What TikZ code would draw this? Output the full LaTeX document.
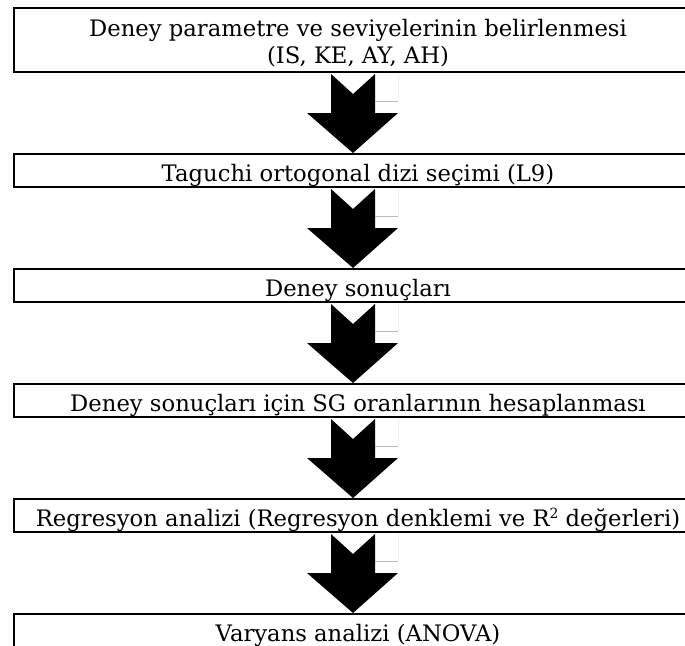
\documentclass[tikz,border=0pt]{standalone}
\usepackage{fontspec}
\setmainfont{DejaVu Serif}
\usetikzlibrary{calc}
\newcommand\flowarrow[2]{%
  \fill[arrowfill] let \p1=(#1.south), \p2=(#2.north) in
    (331pt,\y1-1pt) -- (353pt,\y1-21pt) -- (375pt,\y1-1pt) -- (375pt,\y1-40pt)
    -- (398pt,\y1-40pt) -- (353pt,\y2) -- (307pt,\y1-40pt) -- (331pt,\y1-40pt) -- cycle;
  \draw[ghost] let \p1=(#1.south) in (398pt,\y1-1pt) -- (398pt,\y1-28pt);
  \draw[ghostline] let \p1=(#1.south) in (375pt,\y1-28pt) -- (398pt,\y1-28pt);
}
\newcommand\supertwo{\raisebox{0.33em}{\fontsize{14}{14}\selectfont 2}}
\begin{document}
\begin{tikzpicture}[x=1pt,y=-1pt,
  box/.style={draw, line width=2pt, minimum width=688pt, inner sep=0pt,
    font=\fontsize{22.7}{27}\selectfont, text depth=0pt, text height=21pt, align=center},
  arrowfill/.style={fill=black},
  ghost/.style={draw=gray!12, line width=0.7pt},
  ghostline/.style={draw=gray!55, line width=0.8pt}]
\useasboundingbox (0,0) rectangle (685,645);
\clip (0,0) rectangle (685,645);
\node[box, minimum height=64.5pt, text height=46.5pt] (b1) at (358,39.75)
  {Deney parametre ve seviyelerinin belirlenmesi\\(IS, KE, AY, AH)};
\node[box, minimum height=33pt] (b2) at (358,170.5) {Taguchi ortogonal dizi seçimi (L9)};
\node[box, minimum height=33pt] (b3) at (358,285.5) {Deney sonuçları};
\node[box, minimum height=33pt] (b4) at (358,400.5) {Deney sonuçları için SG oranlarının hesaplanması};
\node[box, minimum height=33pt] (b5) at (358,515.5) {Regresyon analizi (Regresyon denklemi ve R\supertwo{} değerleri)};
\node[box, minimum height=33pt] (b6) at (358,630.5) {Varyans analizi (ANOVA)};
\flowarrow{b1}{b2}
\flowarrow{b2}{b3}
\flowarrow{b3}{b4}
\flowarrow{b4}{b5}
\flowarrow{b5}{b6}
\end{tikzpicture}
\end{document}
